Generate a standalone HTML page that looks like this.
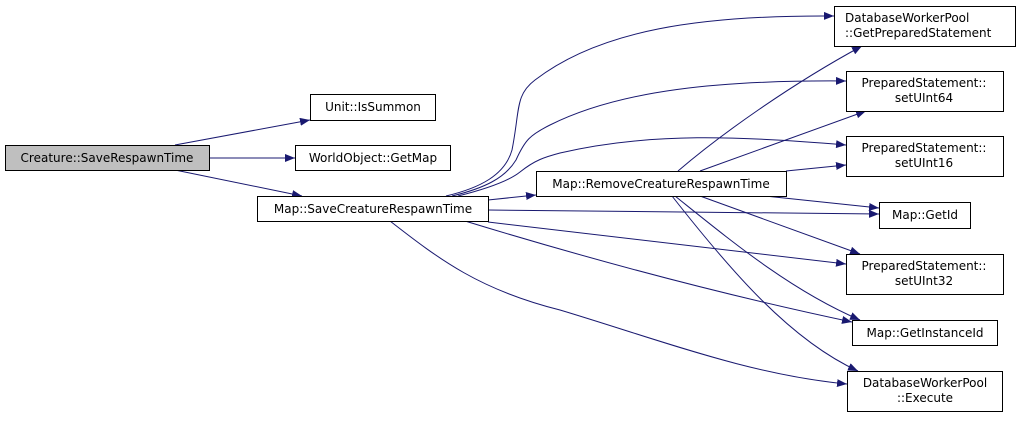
<!DOCTYPE html>
<html><head><meta charset="utf-8"><style>
body{margin:0;background:#fff;width:1020px;height:417px;overflow:hidden}
text{font-family:"DejaVu Sans","Liberation Sans",sans-serif;font-size:12px;fill:#000}
</style></head><body>
<svg width="1020" height="417" xmlns="http://www.w3.org/2000/svg">
<defs><marker id="a" markerWidth="10" markerHeight="8" refX="10" refY="4" orient="auto" markerUnits="userSpaceOnUse"><path d="M0,0 L10,4 L0,8 z" fill="#191970"/></marker></defs>
<g fill="none" stroke="#191970" stroke-width="1" marker-end="url(#a)">
<path d="M175,145 L310,120"/>
<path d="M209,158 L295,158"/>
<path d="M175,170 L302,196"/>
<path d="M446,196 C480,188 505,175 512,150 C520,110 515,95 535,80 C600,30 700,15 834,16"/>
<path d="M452,196 C485,188 505,178 516,160 C525,140 530,135 550,125 C620,90 720,80 846,81"/>
<path d="M458,196 C490,188 510,180 520,172 C535,160 545,157 560,153 C650,132 740,136 846,145"/>
<path d="M488,200 L536,195"/>
<path d="M488,210 L879,214"/>
<path d="M488,222 L846,264"/>
<path d="M465,221 C560,250 700,290 852,322"/>
<path d="M390,221 C440,260 480,290 560,310 C660,340 750,375 847,384"/>
<path d="M678,171 C720,135 790,85 862,46"/>
<path d="M700,171 L866,111"/>
<path d="M786,171 L846,165"/>
<path d="M765,196 L879,208"/>
<path d="M700,196 L860,254"/>
<path d="M675,196 C730,240 790,290 860,320"/>
<path d="M672,196 C730,270 790,340 858,371"/>
</g>
<g stroke="#000" stroke-width="1" fill="#fff">
<rect x="5.5" y="145.5" width="204" height="25" fill="#bfbfbf"/>
<rect x="310.5" y="94.5" width="125" height="26"/>
<rect x="295.5" y="145.5" width="155" height="25"/>
<rect x="257.5" y="196.5" width="231" height="25"/>
<rect x="536.5" y="171.5" width="250" height="25"/>
<rect x="834.5" y="6.5" width="181" height="40"/>
<rect x="846.5" y="71.5" width="157" height="40"/>
<rect x="846.5" y="136.5" width="157" height="40"/>
<rect x="879.5" y="202.5" width="91" height="26"/>
<rect x="846.5" y="254.5" width="157" height="40"/>
<rect x="852.5" y="320.5" width="145" height="25"/>
<rect x="847.5" y="371.5" width="155" height="40"/>
</g>
<g text-anchor="middle">
<text x="107" y="162">Creature::SaveRespawnTime</text>
<text x="373" y="111">Unit::IsSummon</text>
<text x="373" y="162">WorldObject::GetMap</text>
<text x="373" y="213">Map::SaveCreatureRespawnTime</text>
<text x="661" y="188">Map::RemoveCreatureRespawnTime</text>
<text x="845" y="22" text-anchor="start">DatabaseWorkerPool</text>
<text x="845" y="37" text-anchor="start">::GetPreparedStatement</text>
<text x="924" y="87">PreparedStatement::</text>
<text x="924" y="102">setUInt64</text>
<text x="924" y="152">PreparedStatement::</text>
<text x="924" y="167">setUInt16</text>
<text x="925" y="219">Map::GetId</text>
<text x="924" y="270">PreparedStatement::</text>
<text x="924" y="285">setUInt32</text>
<text x="925" y="337">Map::GetInstanceId</text>
<text x="925" y="387">DatabaseWorkerPool</text>
<text x="925" y="402">::Execute</text>
</g>
</svg>
</body></html>
